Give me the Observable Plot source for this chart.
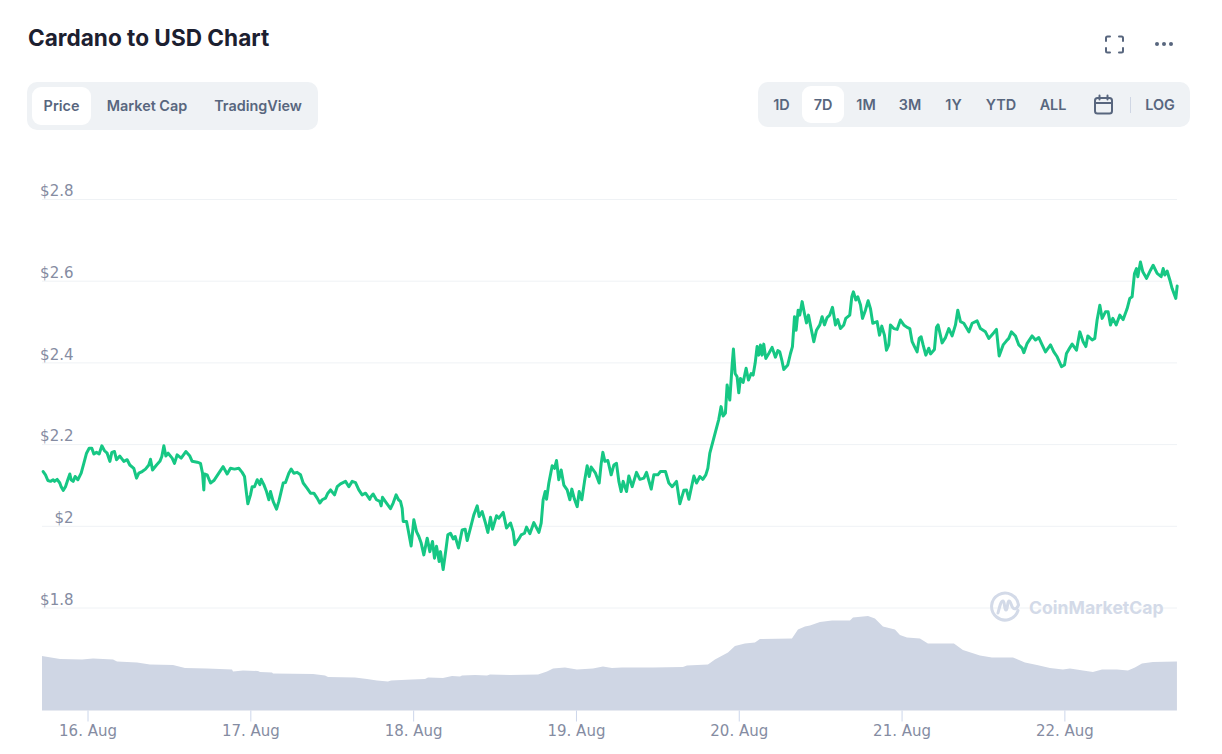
<!DOCTYPE html>
<html>
<head>
<meta charset="utf-8">
<script src="https://cdn.jsdelivr.net/npm/d3@7"></script>
<script src="https://cdn.jsdelivr.net/npm/@observablehq/plot@0.6"></script>
<style>
html,body{margin:0;padding:0;background:#fff;width:1222px;height:754px;overflow:hidden}
body{position:relative;font-family:Inter,sans-serif}
#price,#volume{position:absolute;left:0;top:0}
#price svg,#volume svg{display:block;max-width:none}
.title{position:absolute;left:28px;top:23px;font-size:22.6px;font-weight:700;line-height:30px;color:#1c2030;white-space:nowrap}
.group{position:absolute;background:#eff2f5;border-radius:10px}
.on{position:absolute;background:#fff;border-radius:9px}
.b{position:absolute;transform:translate(-50%,-50%);font-size:14.4px;font-weight:600;color:#58667e;white-space:nowrap;line-height:18px}
.icon{position:absolute}
.mark{position:absolute;left:1029px;top:595px;font-size:17.6px;font-weight:700;color:#d3dae8;line-height:26px;white-space:nowrap}
</style>
</head>
<body>
<div id="volume"></div>
<div id="price"></div>
<div class="title">Cardano to USD Chart</div>
<div class="group" style="left:27px;top:82px;width:291px;height:48px"></div>
<div class="on" style="left:32px;top:87px;width:59px;height:38px"></div>
<div class="group" style="left:758px;top:82px;width:432px;height:45px"></div>
<div class="on" style="left:802px;top:86px;width:42px;height:37px"></div>
<div id="buttons"></div>
<svg class="icon" style="left:1104px;top:35px" width="21" height="19" viewBox="0 0 21 19" fill="none" stroke="#58667e" stroke-width="2" stroke-linecap="round">
<path d="M2 6V3a1.5 1.5 0 0 1 1.5-1.5H6M15 1.500h2.500A1.500 1.500 0 0 1 19 3v3M19 13v3a1.500 1.500 0 0 1-1.500 1.500H15M6 17.500H3.500A1.500 1.500 0 0 1 2 16v-3"/></svg>
<svg class="icon" style="left:1154px;top:41px" width="20" height="6" viewBox="0 0 20 6" fill="#58667e"><circle cx="3" cy="3" r="2"/><circle cx="10" cy="3" r="2"/><circle cx="17" cy="3" r="2"/></svg>
<svg class="icon" style="left:1093px;top:94px" width="21" height="21" viewBox="0 0 21 21" fill="none" stroke="#58667e" stroke-width="2" stroke-linecap="round"><rect x="2" y="4" width="17" height="15.500" rx="2.500"/><path d="M2 9h17M6.500 1.500v4M14.500 1.500v4"/></svg>
<div class="icon" style="left:1130px;top:97px;width:1px;height:16px;background:#cfd6e4"></div>
<svg class="icon" style="left:989px;top:591px" width="32" height="32" viewBox="0 0 32 32" fill="none" stroke="#d3dae8" stroke-width="3" stroke-linecap="round" stroke-linejoin="round"><path d="M29 19.500A13.500 13.500 0 1 1 29.500 14"/><path d="M9 22c2-8 3-12 5-12s1 9 3 9 1-9 3-9 2 5 4 7 4 0 5-2"/></svg>
<div class="mark">CoinMarketCap</div>
<script>
const priceHours = [-6.61,-6.27,-5.92,-5.53,-5.14,-4.94,-4.55,-4.16,-3.96,-3.66,-3.32,-2.98,-2.68,-2.49,-2.19,-1.90,-1.50,-1.01,-0.62,-0.22,0.17,0.56,0.86,1.25,1.64,2.04,2.43,2.82,3.22,3.51,3.90,4.20,4.69,5.28,5.77,6.16,6.75,7.15,7.49,7.98,8.47,8.96,9.21,9.51,10.10,10.59,10.88,11.18,11.47,11.81,12.40,12.75,13.14,13.73,14.42,15.01,15.35,16.09,16.58,16.88,17.07,17.17,17.56,18.06,18.55,19.28,19.92,20.51,21.00,21.59,22.23,22.72,23.07,23.36,23.56,23.95,24.20,24.54,24.94,25.33,25.53,25.92,26.31,26.66,26.90,27.29,27.79,28.13,28.47,28.77,29.11,29.60,29.95,30.34,30.83,31.32,31.72,32.31,32.80,33.29,33.78,34.17,34.52,35.01,35.35,35.75,36.34,36.73,37.22,37.96,38.45,38.94,39.43,39.92,40.41,40.91,41.54,
41.64,42.03,42.52,43.02,43.21,43.41,44.0,44.59,44.98,45.42,45.77,46.06,46.31,46.46,46.95,47.14,47.63,48.03,48.42,48.77,49.11,49.50,50.0,50.39,50.78,51.07,51.37,51.76,51.96,52.35,52.75,53.04,53.43,53.83,54.12,54.61,55.15,55.60,55.89,56.38,56.87,57.37,57.66,58.10,58.59,58.94,59.33,59.63,60.22,60.56,61.2,61.69,62.28,62.67,62.92,63.51,63.85,64.34,64.64,65.13,65.72,66.46,66.80,67.09,67.39,67.59,67.93,68.42,68.76,69.06,69.40,69.75,70.14,70.63,71.03,71.32,71.71,72.11,72.40,72.79,73.19,73.58,73.88,74.17,74.81,75.35,75.65,75.89,76.19,76.63,77.12,77.51,77.9,78.25,78.59,78.89,79.38,79.72,80.22,80.85,81.35,81.94,82.33,83.02,83.41,84.0,84.39,85.13,85.62,86.11,86.75,87.24,87.83,88.22,88.57,89.31,89.70,90.19,90.63,91.07,91.37,91.66,
92.98,93.32,93.62,93.96,94.21,94.60,94.95,95.14,95.39,95.68,95.93,96.17,96.57,97.01,97.35,97.75,98.04,98.34,98.63,98.88,99.12,99.37,99.61,99.91,100.35,100.84,101.33,101.68,101.97,102.27,102.56,103.15,103.55,103.84,104.14,104.38,104.68,104.92,105.27,105.61,105.91,106.2,106.59,106.99,107.38,107.87,108.21,108.56,108.95,109.34,109.74,110.18,110.52,110.92,111.41,111.70,112.29,112.59,112.83,113.18,113.47,113.87,114.16,114.6,114.99,115.34,115.68,116.32,116.67,117.01,117.40,117.70,118.04,118.29,118.78,119.27,119.76,120.25,120.75,121.14,121.48,121.83,122.22,122.52,122.81,123.1,123.5,123.94,124.19,124.77,125.07,125.31,125.9,126.4,126.89,127.38,127.87,128.21,128.61,129.1,129.84,130.33,131.06,131.55,132.29,132.78,133.52,133.91,134.31,134.9,135.39,135.73,136.12,136.72,137.21,137.7,137.95,138.44,139.17,139.67,140.16,140.65,141.14,141.88,142.37,142.86,143.5,143.94,144.23,144.58,145.07,145.71,146.2,146.69,147.09,147.38,148.02,148.41,148.75,149.15,149.49,149.98,150.37,150.72,151.07,151.56,152.1,152.59,153.18,153.57,153.91,154.26,154.55,154.75,155.14,155.49,156.03,156.62,157.01,157.6,158.19,158.49,158.73,159.07,159.47,159.81,160.35,160.55];
const priceUsd = [2.134,2.126,2.112,2.110,2.114,2.110,2.115,2.106,2.097,2.088,2.097,2.114,2.128,2.114,2.110,2.122,2.114,2.130,2.154,2.179,2.191,2.191,2.177,2.181,2.177,2.197,2.185,2.179,2.159,2.181,2.183,2.163,2.172,2.159,2.163,2.150,2.142,2.118,2.130,2.134,2.140,2.150,2.164,2.138,2.150,2.159,2.171,2.197,2.172,2.179,2.167,2.154,2.175,2.167,2.183,2.172,2.159,2.157,2.154,2.130,2.089,2.128,2.126,2.106,2.112,2.130,2.146,2.128,2.142,2.140,2.142,2.132,2.122,2.081,2.055,2.077,2.097,2.097,2.114,2.102,2.115,2.102,2.085,2.065,2.085,2.061,2.042,2.061,2.085,2.106,2.107,2.130,2.140,2.130,2.132,2.126,2.106,2.093,2.081,2.081,2.069,2.057,2.065,2.069,2.081,2.089,2.077,2.097,2.104,2.110,2.097,2.110,2.107,2.089,2.077,2.081,2.066,
2.071,2.079,2.065,2.061,2.050,2.071,2.057,2.043,2.057,2.077,2.065,2.061,2.044,2.012,2.012,1.996,1.952,2.016,1.987,1.975,1.959,1.930,1.971,1.938,1.963,1.922,1.951,1.914,1.938,1.894,1.942,1.979,1.983,1.969,1.975,1.947,1.991,1.993,1.965,1.996,2.028,2.050,2.024,2.036,2.008,1.985,2.022,1.993,2.026,2.020,2.034,1.996,2.008,1.987,1.955,1.969,1.979,1.983,1.998,1.982,2.009,1.985,2.008,2.065,2.085,2.066,2.106,2.148,2.142,2.161,2.114,2.138,2.101,2.089,2.065,2.091,2.066,2.048,2.085,2.065,2.110,2.148,2.122,2.145,2.130,2.106,2.154,2.181,2.159,2.161,2.126,2.150,2.154,2.110,2.085,2.110,2.085,2.123,2.097,2.132,2.115,2.118,2.132,2.091,2.126,2.126,2.134,2.134,2.106,2.097,2.110,2.055,2.088,2.089,2.066,2.123,2.106,2.122,2.115,2.126,2.142,2.179,
2.262,2.293,2.270,2.277,2.346,2.309,2.395,2.434,2.374,2.366,2.327,2.362,2.352,2.387,2.358,2.374,2.370,2.399,2.440,2.419,2.444,2.419,2.446,2.411,2.423,2.438,2.414,2.430,2.427,2.407,2.384,2.395,2.423,2.440,2.513,2.480,2.529,2.517,2.550,2.521,2.498,2.517,2.484,2.452,2.480,2.493,2.513,2.493,2.511,2.517,2.536,2.493,2.506,2.484,2.493,2.509,2.517,2.562,2.574,2.554,2.562,2.542,2.509,2.529,2.552,2.533,2.497,2.501,2.468,2.490,2.468,2.431,2.444,2.493,2.484,2.482,2.505,2.493,2.487,2.484,2.452,2.440,2.427,2.460,2.464,2.444,2.419,2.436,2.422,2.433,2.487,2.493,2.449,2.462,2.484,2.466,2.493,2.529,2.501,2.497,2.476,2.497,2.503,2.484,2.476,2.460,2.474,2.482,2.417,2.444,2.454,2.460,2.476,2.466,2.444,2.436,2.425,2.448,2.466,2.456,2.462,2.444,2.427,2.444,2.427,2.415,2.391,2.395,2.423,2.433,2.446,2.431,2.476,2.452,2.440,2.466,2.456,2.460,2.505,2.541,2.509,2.525,2.525,2.493,2.509,2.493,2.517,2.506,2.533,2.558,2.562,2.619,2.631,2.611,2.647,2.623,2.607,2.627,2.639,2.619,2.611,2.631,2.615,2.625,2.603,2.582,2.558,2.588];
const volumeHours = [-6.71,-4.05,-0.81,0.81,3.76,4.35,7.30,9.21,12.60,14.37,17.61,21.30,21.45,22.92,25.13,25.43,27.20,27.34,33.24,35.01,35.45,39.43,41.20,42.67,44.29,44.74,47.83,49.75,50.19,52.40,53.73,54.91,55.20,57.12,58.89,59.33,62.28,66.41,67.73,68.62,70.38,72.15,74.51,75.98,77.31,78.78,83.35,87.77,88.36,91.46,92.49,94.41,95.44,96.91,98.39,99.12,103.84,104.73,105.76,106.5,107.97,109.74,112.39,112.84,115.05,116.07,117.25,119.02,119.76,120.79,122.70,123.88,127.72,129.04,131.55,133.32,136.42,138.19,139.96,141.87,143.79,144.82,146.74,148.21,149.54,151.75,153.37,154.40,155.43,157.05,160.59];
const volumeBillions = [5.45,5.15,5.1,5.2,5.1,4.9,4.8,4.6,4.55,4.25,4.2,4.1,3.9,4.0,3.95,3.85,3.8,3.7,3.65,3.5,3.35,3.3,3.15,3.0,2.9,3.0,3.1,3.15,3.3,3.25,3.45,3.4,3.5,3.55,3.5,3.6,3.55,3.6,3.9,4.2,4.3,4.1,4.2,4.4,4.25,4.3,4.3,4.35,4.5,4.6,5.1,5.8,6.45,6.7,6.8,7.15,7.2,8.1,8.4,8.5,8.85,9.0,9.0,9.3,9.45,9.2,8.4,8.1,7.55,7.3,7.2,6.7,6.7,6.05,5.5,5.3,5.3,4.8,4.55,4.25,4.1,4.2,4.0,3.85,4.1,4.1,4.0,4.3,4.7,4.85,4.9];
const priceTicks = [1.8,2,2.2,2.4,2.6,2.8];
const dayTicks = [16,17,18,19,20,21,22];
const buttonLabels = ["Price","Market Cap","TradingView","1D","7D","1M","3M","1Y","YTD","ALL","LOG"];
const buttonCentres = [[61.5,105.5],[147,105.5],[258,105.5],[781.5,104.5],[823,104.5],[866,104.5],[910,104.5],[953.5,104.5],[1001,104.5],[1053,104.5],[1160,104.5]];

const t = h => new Date(Date.UTC(2021,7,16) + h*3600e3);
const priceData = priceHours.map((h,i)=>({date:t(h),price:priceUsd[i]}));
const volumeData = volumeHours.map((h,i)=>({date:t(h),volume:volumeBillions[i]}));
const xDomain = [t(-6.71),t(160.6)];
const font = {background:"transparent",fontFamily:"'DejaVu Sans',sans-serif",fontSize:"15px"};

document.getElementById("buttons").innerHTML = buttonLabels.map((s,i)=>
  `<div class="b" style="left:${buttonCentres[i][0]}px;top:${buttonCentres[i][1]}px">${s}</div>`).join("");

document.getElementById("volume").append(Plot.plot({
  width:1222,height:754,marginLeft:42,marginRight:45,marginTop:600,marginBottom:43.5,
  style:font,
  x:{type:"utc",domain:xDomain},
  y:{domain:[0,11.05],axis:null},
  marks:[
    Plot.areaY(volumeData,{x:"date",y:"volume",fill:"#cfd6e4"}),
    Plot.axisX({ticks:dayTicks.map(d=>new Date(Date.UTC(2021,7,d))),tickSize:11,tickPadding:3,label:null,stroke:"#ccd6eb",fill:"#858ca2",fontSize:15,tickFormat:d3.utcFormat("%-d. %b")})
  ]
}));

document.getElementById("price").append(Plot.plot({
  width:1222,height:754,marginLeft:42,marginRight:45,marginTop:199,marginBottom:146.5,
  style:font,
  x:{type:"utc",domain:xDomain,axis:null},
  y:{domain:[1.8,2.8]},
  marks:[
    Plot.ruleY(priceTicks,{stroke:"#eff2f5",strokeWidth:1}),
    Plot.axisY({ticks:priceTicks,anchor:"left",tickSize:0,tickPadding:0,dx:31,dy:-8,label:null,fill:"#858ca2",fontSize:15,tickFormat:d=>"$"+d}),
    Plot.line(priceData,{x:"date",y:"price",stroke:"#16c784",strokeWidth:3,strokeLinejoin:"round"})
  ]
}));
</script>
</body>
</html>
